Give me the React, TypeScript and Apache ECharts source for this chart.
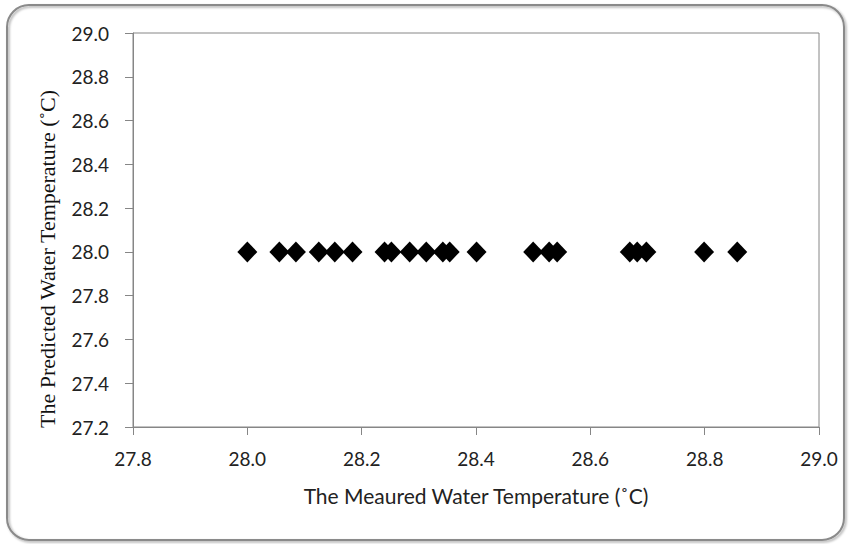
import React, { useEffect, useRef } from "react";
import * as echarts from "echarts";

const measured: number[] = [
  28.0, 28.056, 28.085, 28.125, 28.153, 28.184, 28.24, 28.252, 28.284, 28.313,
  28.342, 28.354, 28.401, 28.5, 28.528, 28.542, 28.669, 28.682, 28.698, 28.799,
  28.857,
];
const predicted: number[] = [
  28.0, 28.0, 28.0, 28.0, 28.0, 28.0, 28.0, 28.0, 28.0, 28.0, 28.0, 28.0, 28.0,
  28.0, 28.0, 28.0, 28.0, 28.0, 28.0, 28.0, 28.0,
];
const xTitle = "The Meaured Water Temperature (˚C)";
const yTitle = "The Predicted Water Temperature (˚C)";

export default function App() {
  const ref = useRef<HTMLDivElement>(null);
  useEffect(() => {
    if (!ref.current) return;
    const chart = echarts.init(ref.current, undefined, { renderer: "svg" });
    const axisColor = "#868686";
    const labelFont = { color: "#222", fontSize: 19, fontFamily: "Lato" };
    chart.setOption({
      animation: false,
      backgroundColor: "#fff",
      graphic: [
        {
          type: "rect",
          shape: { x: 7, y: 5, width: 837, height: 535, r: 22 },
          style: {
            fill: "none",
            stroke: "#8a8a8a",
            lineWidth: 2,
            shadowColor: "rgba(0,0,0,0.35)",
            shadowBlur: 2,
            shadowOffsetX: 1.5,
            shadowOffsetY: 1.5,
          },
          z: -1,
        },
        {
          type: "text",
          x: 47,
          y: 259,
          rotation: Math.PI / 2,
          style: {
            text: yTitle,
            fill: "#111",
            fontSize: 22,
            fontFamily: "Liberation Serif",
            align: "center",
            verticalAlign: "middle",
          },
        },
      ],
      grid: {
        left: 133,
        right: 31,
        top: 33,
        bottom: 117,
        show: true,
        borderColor: axisColor,
        borderWidth: 1,
        backgroundColor: "transparent",
      },
      xAxis: {
        type: "value",
        min: 27.8,
        max: 29.0,
        interval: 0.2,
        name: xTitle,
        nameLocation: "middle",
        nameGap: 58,
        nameTextStyle: { color: "#222", fontSize: 21, fontFamily: "Lato" },
        axisLine: { show: true, onZero: false, lineStyle: { color: axisColor } },
        axisTick: { show: true, length: 8, inside: false, lineStyle: { color: axisColor } },
        splitLine: { show: false },
        axisLabel: {
          ...labelFont,
          margin: 22,
          formatter: (v: number) => v.toFixed(1),
        },
      },
      yAxis: {
        type: "value",
        min: 27.2,
        max: 29.0,
        interval: 0.2,
        axisLine: { show: true, onZero: false, lineStyle: { color: axisColor } },
        axisTick: { show: true, length: 8, inside: false, lineStyle: { color: axisColor } },
        splitLine: { show: false },
        axisLabel: {
          ...labelFont,
          margin: 24,
          formatter: (v: number) => v.toFixed(1),
        },
      },
      series: [
        {
          type: "scatter",
          symbol: "diamond",
          symbolSize: [20, 21],
          itemStyle: { color: "#000", opacity: 1 },
          data: measured.map((m, i) => [m, predicted[i]]),
        },
      ],
    });
    return () => chart.dispose();
  }, []);
  return (
    <div
      ref={ref}
      style={{ position: "fixed", left: 0, top: 0, width: 850, height: 544 }}
    />
  );
}
